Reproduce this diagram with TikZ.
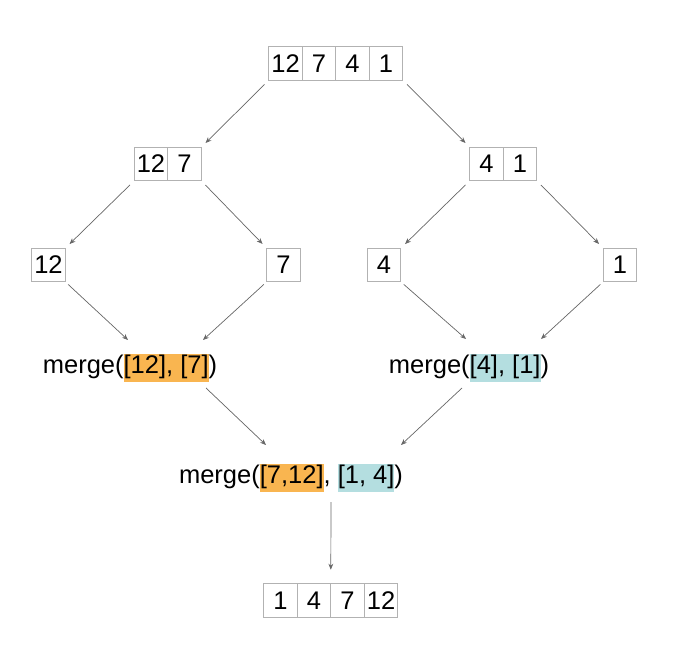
\documentclass[tikz,border=0pt]{standalone}
\usepackage{fontspec}
\setmainfont{Liberation Sans}
\usetikzlibrary{positioning,arrows.meta}
\definecolor{hlorange}{RGB}{249,181,80}
\definecolor{hlblue}{RGB}{180,222,224}
\newcommand{\hlbox}[2]{{\setlength{\fboxsep}{0pt}\colorbox{#1}{\strut #2}}}

\begin{document}
\begin{tikzpicture}[x=0.5pt,y=-0.5pt,
		cell/.style={draw=gray!60,minimum width=16.75pt,minimum height=16.75pt,inner sep=0pt,outer sep=0pt,font=\fontsize{12.75}{14}\selectfont},
		lbl/.style={inner sep=0pt,font=\fontsize{12.75}{14}\selectfont},
		link/.style={draw=gray!80!black,line width=0.35pt,-{Stealth[length=3pt,width=2.4pt]}}]
		\useasboundingbox (0,0) rectangle (672,672);
		\node[cell] (a1) at (285.5,63.5) {12};
		\node[cell,right=0pt of a1] (a2) {7};
		\node[cell,right=0pt of a2] (a3) {4};
		\node[cell,right=0pt of a3] (a4) {1};
		\node[cell] (b1) at (151,164) {12};
		\node[cell,right=0pt of b1] (b2) {7};
		\node[cell] (c1) at (486.5,164) {4};
		\node[cell,right=0pt of c1] (c2) {1};
		\node[cell] (d1) at (48.5,265) {12};
		\node[cell] (d2) at (283.5,265) {7};
		\node[cell] (d3) at (384,265) {4};
		\node[cell] (d4) at (620,265) {1};
		\node[lbl] (m1) at (130,368) {merge(\hlbox{hlorange}{[12], [7]})};
		\node[lbl] (m2) at (469,368) {merge(\hlbox{hlblue}{[4], [1]})};
		\node[lbl] (m3) at (291,478) {merge(\hlbox{hlorange}{[7,12]}, \hlbox{hlblue}{[1, 4]})};
		\node[cell] (e1) at (280.5,600.5) {1};
		\node[cell,right=0pt of e1] (e2) {4};
		\node[cell,right=0pt of e2] (e3) {7};
		\node[cell,right=0pt of e3] (e4) {12};
		\coordinate (p1) at (128,340);
		\coordinate (p2) at (203,340);
		\coordinate (p3) at (466,339);
		\coordinate (p4) at (541,339);
		\coordinate (p5) at (206,388);
		\coordinate (p6) at (266,445);
		\coordinate (p7) at (462,388);
		\coordinate (p8) at (401,445);
		\coordinate (p9) at (331,502);
		\draw[link,shorten <=3pt,shorten >=3pt] (a1.south west) -- (b2.north east);
		\draw[link,shorten <=3pt,shorten >=3pt] (a4.south east) -- (c1.north west);
		\draw[link,shorten <=3pt,shorten >=3pt] (b1.south west) -- (d1.north east);
		\draw[link,shorten <=3pt,shorten >=3pt] (b2.south east) -- (d2.north west);
		\draw[link,shorten <=3pt,shorten >=3pt] (c1.south west) -- (d3.north east);
		\draw[link,shorten <=3pt,shorten >=3pt] (c2.south east) -- (d4.north west);
		\draw[link,shorten <=2pt] (d1.south east) -- (p1);
		\draw[link,shorten <=2pt] (d2.south west) -- (p2);
		\draw[link,shorten <=2pt] (d3.south east) -- (p3);
		\draw[link,shorten <=2pt] (d4.south west) -- (p4);
		\draw[link] (p5) -- (p6);
		\draw[link] (p7) -- (p8);
		\draw[link,shorten >=7pt] (p9) -- (e2.north east);
\end{tikzpicture}
\end{document}
